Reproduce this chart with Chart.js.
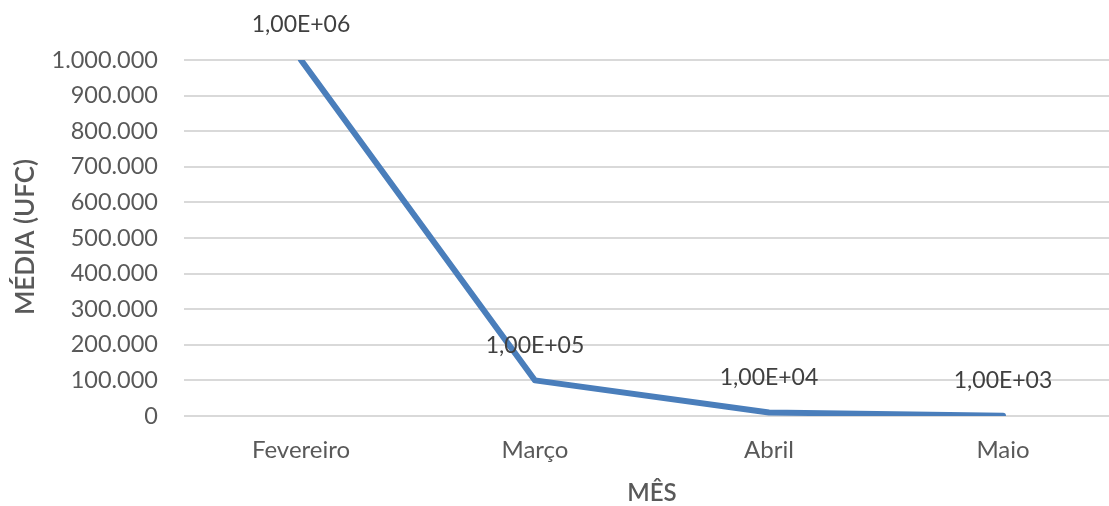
<!DOCTYPE html>
<html>
<head>
<meta charset="utf-8">
<script src="https://cdn.jsdelivr.net/npm/chart.js@4.4.1/dist/chart.umd.min.js"></script>
<style>
  html, body { margin: 0; padding: 0; background: #fff; overflow: hidden; }
  #wrap { position: relative; width: 1120px; height: 506px; }
</style>
</head>
<body>
<div id="wrap"><canvas id="c"></canvas></div>
<script>
// Monthly mean colony counts
const meses = ['Fevereiro', 'Março', 'Abril', 'Maio'];
const mediaUfc = [1000000, 100000, 10000, 1000];
const yMin = 0;
const yMax = 1000000;
const yStep = 100000;
const yTitle = 'MÉDIA (UFC)';
const xTitle = 'MÊS';

const FONT = 'Lato, "Open Sans", sans-serif';
const TEXT = '#595959';
const LABEL = '#404040';

// 1000000 -> "1.000.000"
function milhar(v) {
  return String(Math.round(v)).replace(/\B(?=(\d{3})+(?!\d))/g, '.');
}
// 100000 -> "1,00E+05"
function cientifico(v) {
  const [m, e] = v.toExponential(2).split('e');
  const n = parseInt(e, 10);
  const exp = (n < 0 ? '-' : '+') + String(Math.abs(n)).padStart(2, '0');
  return m.replace('.', ',') + 'E' + exp;
}

// Value labels above each point and the two axis titles
const rotulos = {
  id: 'rotulos',
  afterDatasetsDraw(chart) {
    const ctx = chart.ctx;
    const meta = chart.getDatasetMeta(0);
    ctx.save();
    ctx.font = '23px ' + FONT;
    ctx.fillStyle = LABEL;
    ctx.textAlign = 'center';
    ctx.textBaseline = 'middle';
    meta.data.forEach((pt, i) => {
      const v = chart.data.datasets[0].data[i];
      ctx.fillText(cientifico(v), pt.x, pt.y - 35);
    });
    ctx.restore();
  },
  afterDraw(chart) {
    const ctx = chart.ctx;
    ctx.save();
    ctx.fillStyle = TEXT;
    ctx.textAlign = 'center';
    ctx.textBaseline = 'middle';
    ctx.font = '600 24px ' + FONT;
    ctx.fillText(xTitle, 652, 493);
    ctx.font = '600 26px ' + FONT;
    ctx.translate(26, 237);
    ctx.rotate(-Math.PI / 2);
    ctx.fillText(yTitle, 0, 0);
    ctx.restore();
  }
};

new Chart(document.getElementById('c'), {
  type: 'line',
  data: {
    labels: meses,
    datasets: [{
      data: mediaUfc,
      borderColor: '#4A7EBB',
      borderWidth: 6,
      pointRadius: 0,
      tension: 0,
      fill: false,
      borderCapStyle: 'round',
      borderJoinStyle: 'round'
    }]
  },
  options: {
    responsive: true,
    maintainAspectRatio: false,
    animation: false,
    layout: { padding: { top: 60, right: 0, bottom: 0, left: 0 } },
    plugins: { legend: { display: false }, tooltip: { enabled: false } },
    scales: {
      x: {
        offset: true,
        grid: { display: false, drawTicks: false },
        border: { display: false },
        ticks: { color: TEXT, font: { family: FONT, size: 24 }, padding: 20, maxRotation: 0 },
        afterFit(s) { s.height = 90; }
      },
      y: {
        min: yMin,
        max: yMax,
        grid: { color: '#D9D9D9', lineWidth: 2, drawTicks: false },
        border: { display: false },
        ticks: {
          stepSize: yStep,
          color: TEXT,
          font: { family: FONT, size: 23.5 },
          padding: 26,
          callback: v => milhar(v)
        },
        afterFit(s) { s.width = 184; }
      }
    }
  },
  plugins: [rotulos]
});
</script>
</body>
</html>
